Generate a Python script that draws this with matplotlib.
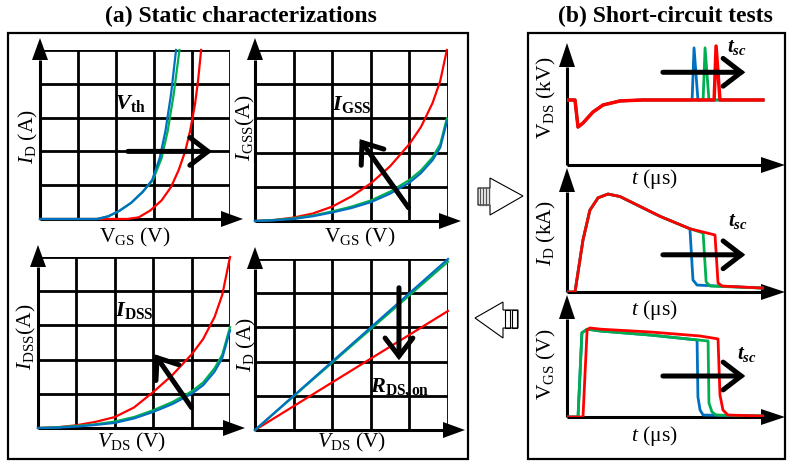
import matplotlib
matplotlib.use("Agg")
import matplotlib.pyplot as plt
from matplotlib.patches import Polygon, Rectangle, FancyArrowPatch

plt.rcParams['font.family'] = ['Liberation Serif', 'DejaVu Serif']
plt.rcParams['mathtext.fontset'] = 'custom'
plt.rcParams['mathtext.rm'] = 'Liberation Serif'
plt.rcParams['mathtext.it'] = 'Liberation Serif:italic'
plt.rcParams['mathtext.bf'] = 'Liberation Serif:bold'
plt.rcParams['mathtext.bfit'] = 'Liberation Serif:italic:bold'

RED, GREEN, BLUE = '#FF0000', '#00B050', '#0070C0'

# ---------------- data (grid units 0..5) ----------------
# (a) top-left: I_D vs V_GS
vth_blue_x = [0, 1.5, 1.8, 2.1, 2.4, 2.7, 2.95, 3.15, 3.3, 3.45, 3.58]
vth_blue_y = [0, 0, 0.08, 0.25, 0.48, 0.8, 1.15, 1.8, 2.6, 3.7, 5.0]
vth_green_x = [0, 1.5, 1.8, 2.1, 2.4, 2.7, 2.97, 3.2, 3.36, 3.52, 3.67]
vth_green_y = [0, 0, 0.08, 0.25, 0.48, 0.8, 1.15, 1.8, 2.6, 3.7, 5.0]
vth_red_x = [0, 2.3, 2.6, 2.9, 3.2, 3.45, 3.65, 3.82, 3.95, 4.08, 4.16, 4.24]
vth_red_y = [0, 0, 0.05, 0.25, 0.55, 0.95, 1.45, 2.0, 2.6, 3.4, 4.1, 5.0]

# (a) top-right: I_GSS vs V_GS
igss_x = [0, 0.5, 1.0, 1.5, 2.0, 2.5, 3.0, 3.5, 4.0, 4.3, 4.6, 4.8, 4.97]
igss_red = [0, 0.03, 0.1, 0.22, 0.42, 0.72, 1.1, 1.6, 2.25, 2.75, 3.45, 4.1, 5.0]
igss_green = [0, 0.03, 0.08, 0.16, 0.28, 0.42, 0.6, 0.86, 1.2, 1.48, 1.86, 2.25, 3.0]
igss_blue = [0, 0.02, 0.06, 0.14, 0.25, 0.38, 0.55, 0.8, 1.12, 1.4, 1.78, 2.15, 2.9]

# (a) bottom-left: I_DSS vs V_DS
idss_x = [0, 0.5, 1.0, 1.5, 2.0, 2.5, 3.0, 3.5, 4.0, 4.3, 4.6, 4.8, 5.0]
idss_red = [0, 0.02, 0.08, 0.18, 0.32, 0.6, 1.05, 1.55, 2.15, 2.6, 3.25, 3.9, 5.0]
idss_green = [0, 0.02, 0.06, 0.11, 0.19, 0.32, 0.52, 0.76, 1.07, 1.33, 1.75, 2.15, 2.95]
idss_blue = [0, 0.01, 0.04, 0.09, 0.15, 0.28, 0.47, 0.7, 1.0, 1.25, 1.65, 2.05, 2.85]

# (a) bottom-right: I_D vs V_DS (R_DS,on)
rds_x = [0, 5]
rds_red = [0, 3.48]
rds_green = [0, 4.92]
rds_blue = [0, 5.0]

# (b) V_DS (normalised) vs t
vds_blue_t = [0, 0.37, 0.51, 0.74, 1.2, 1.67, 2.45, 3.52, 5.79, 5.88, 6.06, 9.07]
vds_blue_v = [0.533, 0.533, 0.311, 0.344, 0.434, 0.492, 0.525, 0.533, 0.533, 0.96, 0.533, 0.533]
vds_green_t = [0, 0.37, 0.51, 0.74, 1.2, 1.67, 2.45, 3.52, 6.30, 6.39, 6.57, 9.07]
vds_green_v = [0.533, 0.533, 0.311, 0.344, 0.434, 0.492, 0.525, 0.533, 0.533, 0.96, 0.533, 0.533]
vds_red_t = [0, 0.37, 0.51, 0.74, 1.2, 1.67, 2.45, 3.52, 6.81, 6.90, 7.08, 9.07]
vds_red_v = [0.533, 0.533, 0.311, 0.344, 0.434, 0.492, 0.525, 0.533, 0.533, 0.975, 0.533, 0.533]

# (b) I_D (normalised) vs t
id_blue_t = [0, 0.37, 0.74, 1.06, 1.44, 1.90, 2.45, 3.38, 4.31, 5.69, 5.83, 6.02, 9.03]
id_blue_i = [0, 0, 0.42, 0.66, 0.76, 0.79, 0.77, 0.69, 0.61, 0.51, 0.097, 0.056, 0.032]
id_green_t = [0, 0.37, 0.74, 1.06, 1.44, 1.90, 2.45, 3.38, 4.31, 5.69, 6.30, 6.44, 6.62, 9.03]
id_green_i = [0, 0, 0.42, 0.66, 0.76, 0.79, 0.77, 0.69, 0.61, 0.51, 0.476, 0.081, 0.048, 0.032]
id_red_t = [0, 0.37, 0.74, 1.06, 1.44, 1.90, 2.45, 3.38, 4.31, 5.69, 6.85, 6.99, 7.18, 9.03]
id_red_i = [0, 0, 0.42, 0.66, 0.76, 0.79, 0.77, 0.69, 0.61, 0.51, 0.46, 0.073, 0.048, 0.032]

# (b) V_GS (normalised) vs t
vgs_blue_t = [0, 0.51, 0.69, 0.93, 1.53, 3.84, 6.02, 6.06, 6.16, 6.30, 9.03]
vgs_blue_g = [0, 0, 0.69, 0.72, 0.705, 0.672, 0.631, 0.164, 0.057, 0.016, 0.008]
vgs_green_t = [0, 0.51, 0.69, 0.93, 1.53, 3.84, 6.53, 6.57, 6.71, 6.90, 9.03]
vgs_green_g = [0, 0, 0.69, 0.72, 0.705, 0.672, 0.623, 0.115, 0.041, 0.016, 0.008]
vgs_red_t = [0, 0.74, 0.93, 1.06, 1.53, 3.84, 6.16, 6.99, 7.08, 7.22, 7.45, 9.03]
vgs_red_g = [0, 0, 0.713, 0.73, 0.72, 0.697, 0.664, 0.64, 0.18, 0.057, 0.016, 0.008]

# ---------------- figure ----------------
W, H = 788, 462
fig = plt.figure(figsize=(W / 100, H / 100), dpi=100)

def rect(x0, y0, x1, y1):
    return [x0 / W, 1 - y1 / H, (x1 - x0) / W, (y1 - y0) / H]

ov = fig.add_axes([0, 0, 1, 1], zorder=0)
ov.set_xlim(0, W)
ov.set_ylim(H, 0)
ov.axis('off')

def axis_arrow(x0, y0, x1, y1, L=22, hw=8):
    import math
    d = math.hypot(x1 - x0, y1 - y0)
    ux, uy = (x1 - x0) / d, (y1 - y0) / d
    bx, by = x1 - ux * L, y1 - uy * L
    ov.plot([x0, bx], [y0, by], color='k', lw=2.2, solid_capstyle='butt')
    ov.add_patch(Polygon([(x1, y1), (bx - uy * hw, by + ux * hw), (bx + uy * hw, by - ux * hw)],
                         closed=True, color='k', lw=0))

# outer boxes
ov.add_patch(Rectangle((8, 33), 460, 426, fill=False, lw=1.6, ec='k'))
ov.add_patch(Rectangle((528, 33), 257, 426, fill=False, lw=1.6, ec='k'))

ov.text(241, 16, '(a) Static characterizations', ha='center', va='center', fontsize=17, fontweight='bold')
ov.text(665, 16, '(b) Short-circuit tests', ha='center', va='center', fontsize=17, fontweight='bold')

# block arrows
ov.add_patch(Polygon([(478, 188), (490, 188), (490, 178), (523, 196), (490, 215), (490, 205), (478, 205)],
                     closed=True, fill=False, ec='k', lw=0.8))
for xs in (480.5, 483.5, 486.5, 489):
    ov.plot([xs, xs], [188, 205], color='#555555', lw=1.0)
ov.add_patch(Polygon([(475, 318), (503, 302), (503, 310), (518, 310), (518, 328), (503, 328), (503, 338)],
                     closed=True, fill=False, ec='k', lw=0.8))
ov.add_patch(Rectangle((505, 310), 5, 18, fill=False, ec='k', lw=0.8))
ov.add_patch(Rectangle((512, 310), 5, 18, fill=False, ec='k', lw=0.8))

LAB = 15.5

def grid_panel(px, xlab, ylab, xl_pos, yl_pos, arrow_tips):
    x0, y0, x1, y1 = px
    ax = fig.add_axes(rect(x0, y0, x1, y1), zorder=1)
    ax.set_xlim(0, 5)
    ax.set_ylim(0, 5)
    ax.axis('off')
    for k in range(1, 6):
        ax.axvline(k, color='k', lw=2.0, zorder=1)
        ax.axhline(k, color='k', lw=2.0, zorder=1)
    axis_arrow(x0, y1, x0, arrow_tips[1])
    axis_arrow(x0, y1, arrow_tips[0], y1)
    ov.text(xl_pos[0], xl_pos[1], xlab, ha='center', va='center', fontsize=LAB)
    ov.text(yl_pos[0], yl_pos[1], ylab, ha='center', va='center', fontsize=LAB, rotation=90)
    return ax

def big_arrow(ax, p0, p1):
    ax.add_patch(FancyArrowPatch(p0, p1, arrowstyle='->,head_length=0.65,head_width=0.5',
                                 mutation_scale=20, lw=3.6, color='k', zorder=5,
                                 capstyle='round', joinstyle='miter', clip_on=False))

CLW = 1.6
# top-left
ax1 = grid_panel((40, 50, 230, 219), r'V$_{\rm GS}$ (V)', r'$I_{\rm D}$ (A)', (135, 237), (28, 137), (243, 38))
ax1.plot(vth_red_x, vth_red_y, color=RED, lw=CLW, clip_on=False, zorder=3)
ax1.plot(vth_green_x, vth_green_y, color=GREEN, lw=CLW, clip_on=False, zorder=3)
ax1.plot(vth_blue_x, vth_blue_y, color=BLUE, lw=CLW, clip_on=False, zorder=3)
big_arrow(ax1, (2.24, 2.0), (4.6, 2.0))
ax1.text(2.37, 3.43, r'$\mathbfit{V}_{\mathbf{th}}$', fontsize=16, ha='center', va='center', zorder=6)

# top-right
ax2 = grid_panel((255, 50, 448, 221), r'V$_{\rm GS}$ (V)', r'$I_{\rm GSS}$(A)', (360, 237), (245, 128), (461, 38))
ax2.plot(igss_x, igss_red, color=RED, lw=CLW, clip_on=False, zorder=3)
ax2.plot(igss_x, igss_green, color=GREEN, lw=CLW, clip_on=False, zorder=3)
ax2.plot(igss_x, igss_blue, color=BLUE, lw=CLW, clip_on=False, zorder=3)
big_arrow(ax2, (4.02, 0.32), (2.67, 2.46))
ax2.text(2.5, 3.42, r'$\mathbfit{I}_{\mathbf{GSS}}$', fontsize=16, ha='center', va='center', zorder=6)

# bottom-left
ax3 = grid_panel((38, 257, 230, 428), r'$V_{\rm DS}$ (V)', r'$I_{\rm DSS}$(A)', (132, 442), (26, 337), (245, 245))
ax3.plot(idss_x, idss_red, color=RED, lw=CLW, clip_on=False, zorder=3)
ax3.plot(idss_x, idss_green, color=GREEN, lw=CLW, clip_on=False, zorder=3)
ax3.plot(idss_x, idss_blue, color=BLUE, lw=CLW, clip_on=False, zorder=3)
big_arrow(ax3, (4.04, 0.53), (3.0, 2.22))
ax3.text(2.5, 3.45, r'$\mathbfit{I}_{\mathbf{DSS}}$', fontsize=16, ha='center', va='center', zorder=6)

# bottom-right
ax4 = grid_panel((255, 259, 448, 430), r'$V_{\rm DS}$ (V)', r'$I_{\rm D}$ (A)', (352, 442), (246, 345), (465, 247))
ax4.plot(rds_x, rds_red, color=RED, lw=CLW, clip_on=False, zorder=3)
ax4.plot(rds_x, rds_green, color=GREEN, lw=CLW, clip_on=False, zorder=3)
ax4.plot(rds_x, rds_blue, color=BLUE, lw=CLW, clip_on=False, zorder=3)
big_arrow(ax4, (3.73, 4.24), (3.73, 1.96))
ax4.text(3.75, 1.23, r'$\mathbfit{R}_{\mathbf{DS,on}}$', fontsize=16, ha='center', va='center', zorder=6)

# ---------------- (b) ----------------
def time_panel(y_top, y_bot, ylab, ylab_y, tlab_y):
    ax = fig.add_axes(rect(567, y_top, 785, y_bot), zorder=1)
    ax.set_xlim(0, 10.09)
    ax.set_ylim(0, 1)
    ax.axis('off')
    axis_arrow(567, y_bot, 567, y_top, L=24, hw=8)
    axis_arrow(567, y_bot, 785, y_bot, L=24, hw=8)
    ov.text(546, ylab_y, ylab, ha='center', va='center', fontsize=LAB, rotation=90)
    ov.text(654, tlab_y, r'$t$ (μs)', ha='center', va='center', fontsize=LAB)
    return ax

TLW = 2.0
b1 = time_panel(43, 165, r'V$_{\rm DS}$ (kV)', 98, 179)
b1.plot(vds_blue_t, vds_blue_v, color=BLUE, lw=TLW, zorder=3)
b1.plot(vds_green_t, vds_green_v, color=GREEN, lw=TLW, zorder=3)
b1.plot(vds_red_t, vds_red_v, color=RED, lw=2.5, zorder=3)
big_arrow(b1, (4.31, 0.76), (8.38, 0.76))
b1.text(7.87, 0.96, r'$\mathbfit{t}_{\mathbfit{sc}}$', fontsize=15, ha='center', va='center', zorder=6)

b2 = time_panel(168, 292, r'$I_{\rm D}$ (kA)', 233, 310)
b2.plot(id_blue_t, id_blue_i, color=BLUE, lw=TLW, zorder=3)
b2.plot(id_green_t, id_green_i, color=GREEN, lw=TLW, zorder=3)
b2.plot(id_red_t, id_red_i, color=RED, lw=TLW, zorder=3)
big_arrow(b2, (4.31, 0.30), (8.38, 0.30))
b2.text(7.92, 0.565, r'$\mathbfit{t}_{\mathbfit{sc}}$', fontsize=15, ha='center', va='center', zorder=6)

b3 = time_panel(295, 417, r'V$_{\rm GS}$ (V)', 364, 436)
b3.plot(vgs_blue_t, vgs_blue_g, color=BLUE, lw=TLW, zorder=3)
b3.plot(vgs_green_t, vgs_green_g, color=GREEN, lw=TLW, zorder=3)
b3.plot(vgs_red_t, vgs_red_g, color=RED, lw=TLW, zorder=3)
big_arrow(b3, (4.31, 0.336), (8.38, 0.336))
b3.text(8.33, 0.51, r'$\mathbfit{t}_{\mathbfit{sc}}$', fontsize=15, ha='center', va='center', zorder=6)

fig.savefig('out.png', dpi=100)
